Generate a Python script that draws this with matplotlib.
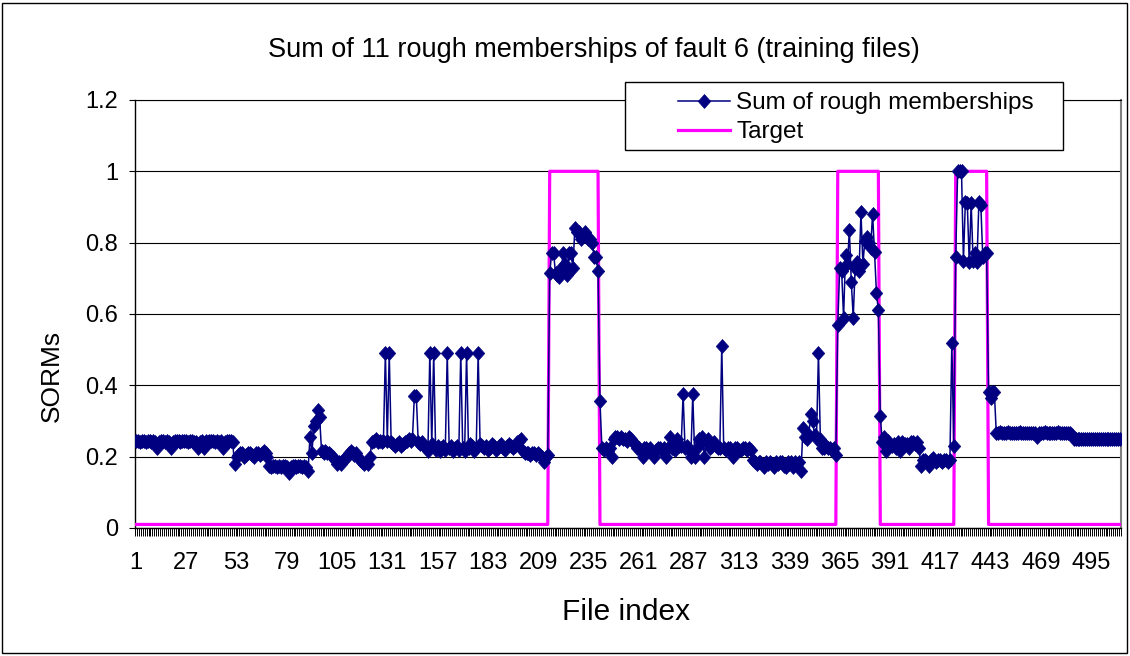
import matplotlib
matplotlib.use('Agg')
import matplotlib.pyplot as plt
from matplotlib.patches import Rectangle
from matplotlib.lines import Line2D
import numpy as np

plt.rcParams['font.family'] = ['Liberation Sans', 'DejaVu Sans']

# ---------------- data ----------------
title = "Sum of 11 rough memberships of fault 6 (training files)"
x_label = "File index"
y_label = "SORMs"
series_names = ["Sum of rough memberships", "Target"]

seg_001_051 = [0.245, 0.245, 0.24, 0.245, 0.245, 0.24, 0.245, 0.245, 0.24, 0.245, 0.24,
               0.225,
               0.24, 0.245, 0.245, 0.24, 0.245, 0.24,
               0.225,
               0.24, 0.245, 0.245, 0.245, 0.24, 0.245, 0.245, 0.245, 0.24, 0.245, 0.245, 0.24, 0.24,
               0.225,
               0.24, 0.245,
               0.225,
               0.245, 0.24, 0.245, 0.245, 0.245, 0.24, 0.245, 0.24, 0.245,
               0.225,
               0.24, 0.245, 0.245, 0.245, 0.24]
seg_052_069 = [0.18, 0.2, 0.205, 0.21, 0.21, 0.2, 0.205, 0.21, 0.21, 0.205, 0.2, 0.21, 0.21,
               0.205, 0.21, 0.215, 0.21, 0.2]
seg_070_090 = [0.175, 0.17, 0.175, 0.175, 0.17, 0.175, 0.17, 0.175, 0.175, 0.17, 0.155,
               0.17, 0.175, 0.175, 0.17, 0.175, 0.175, 0.17, 0.175, 0.17, 0.16]
seg_091_098 = [0.255, 0.21, 0.285, 0.30, 0.33, 0.31, 0.215, 0.21]
seg_099_122 = [0.215, 0.21, 0.21, 0.205, 0.2, 0.19, 0.18, 0.185, 0.18, 0.19, 0.195, 0.2,
               0.21, 0.215, 0.21, 0.205, 0.21, 0.2, 0.19, 0.185, 0.18, 0.185, 0.18, 0.2]
seg_123_146 = [0.24, 0.245, 0.25, 0.24, 0.245, 0.24, 0.245, 0.49, 0.245, 0.49,
               0.24, 0.235, 0.23, 0.235, 0.24, 0.23, 0.235, 0.24, 0.245, 0.25, 0.245, 0.25,
               0.37, 0.37]
seg_147_178 = [0.24, 0.235, 0.24, 0.23, 0.225, 0.215, 0.49, 0.235, 0.49, 0.22,
               0.23, 0.215, 0.225, 0.23, 0.22, 0.49, 0.225, 0.23, 0.215, 0.225,
               0.23, 0.22, 0.49, 0.225, 0.215, 0.49, 0.225, 0.235, 0.23, 0.215,
               0.225, 0.49]
seg_179_214 = [0.235, 0.23, 0.225, 0.23, 0.22, 0.225, 0.235, 0.23, 0.22, 0.225, 0.23,
               0.235, 0.225, 0.22, 0.23, 0.235, 0.23, 0.225, 0.23, 0.24, 0.245,
               0.25,
               0.215, 0.21, 0.21, 0.21, 0.205, 0.21, 0.21, 0.205, 0.21, 0.205, 0.2,
               0.185, 0.2, 0.205]
seg_215_240 = [0.715, 0.77, 0.77, 0.715, 0.71, 0.705, 0.73, 0.77, 0.74, 0.71, 0.77, 0.77,
               0.73, 0.84, 0.83, 0.83, 0.81, 0.82, 0.83, 0.82, 0.81, 0.81, 0.80, 0.76,
               0.76, 0.72]
seg_241_260 = [0.355, 0.225, 0.22, 0.225, 0.215, 0.225, 0.2, 0.25, 0.255, 0.255, 0.25,
               0.255, 0.25, 0.25, 0.245, 0.255, 0.25, 0.24, 0.235, 0.225]
seg_261_319 = [0.225, 0.215, 0.2, 0.225, 0.225, 0.22, 0.225, 0.21, 0.2, 0.22,
               0.225, 0.225, 0.215, 0.225, 0.2, 0.225, 0.255, 0.225, 0.225, 0.22,
               0.25, 0.23, 0.23, 0.375, 0.225, 0.23, 0.22, 0.2, 0.375, 0.2,
               0.225, 0.25, 0.24, 0.255, 0.2, 0.24, 0.25, 0.225, 0.23, 0.24,
               0.23, 0.225, 0.225, 0.51, 0.225, 0.22, 0.225, 0.225, 0.22, 0.2,
               0.225, 0.225, 0.22, 0.22, 0.225, 0.225, 0.22, 0.225, 0.22]
seg_320_345 = [0.19, 0.185, 0.18, 0.185, 0.185, 0.18, 0.17, 0.185, 0.18, 0.185,
               0.18, 0.17, 0.185, 0.18, 0.185, 0.185, 0.175, 0.17, 0.185, 0.18,
               0.185, 0.17, 0.185, 0.18, 0.185, 0.16]
seg_346_363 = [0.28, 0.255, 0.25, 0.26, 0.32, 0.3, 0.26, 0.25, 0.49, 0.25, 0.225, 0.225,
               0.23, 0.225, 0.225, 0.22, 0.225, 0.205]
seg_364_385 = [0.57, 0.73, 0.72, 0.59, 0.765, 0.74, 0.835, 0.69, 0.59, 0.73, 0.745, 0.72,
               0.885, 0.74, 0.805, 0.815, 0.8, 0.785, 0.88, 0.775, 0.66, 0.61]
seg_386_424 = [0.315,
               0.24, 0.255, 0.215, 0.245, 0.235, 0.23, 0.235, 0.225, 0.24, 0.215,
               0.24, 0.23, 0.235, 0.235, 0.225, 0.24, 0.24, 0.235, 0.24, 0.225,
               0.175, 0.19, 0.19, 0.185, 0.175, 0.19, 0.195, 0.19, 0.185, 0.19,
               0.19, 0.185, 0.19, 0.19, 0.185,
               0.19, 0.52, 0.23]
seg_425_441 = [0.76, 1.0, 1.0, 1.0, 0.75, 0.915, 0.91, 0.745, 0.91, 0.75, 0.77, 0.745,
               0.915, 0.905, 0.76, 0.77, 0.77]
seg_442_510 = [0.38, 0.365, 0.38, 0.38,
               0.265, 0.265, 0.27, 0.265, 0.265, 0.265, 0.27, 0.265, 0.265, 0.265,
               0.265, 0.265, 0.27, 0.265, 0.265, 0.265, 0.265, 0.265, 0.265, 0.265,
               0.265, 0.255, 0.265, 0.265, 0.265, 0.27, 0.265, 0.265, 0.265, 0.265,
               0.265, 0.265, 0.27, 0.265, 0.265, 0.265, 0.265, 0.265, 0.265, 0.26,
               0.25, 0.25, 0.25, 0.25, 0.25, 0.25, 0.25, 0.25, 0.25, 0.25,
               0.25, 0.25, 0.25, 0.25, 0.25, 0.25, 0.25, 0.25, 0.25, 0.25,
               0.25, 0.25, 0.25, 0.25, 0.25]

sorms = (seg_001_051 + seg_052_069 + seg_070_090 + seg_091_098 + seg_099_122 +
         seg_123_146 + seg_147_178 + seg_179_214 + seg_215_240 + seg_241_260 +
         seg_261_319 + seg_320_345 + seg_346_363 + seg_364_385 + seg_386_424 +
         seg_425_441 + seg_442_510)

# target as run-length encoded step levels
target_levels = [0.01, 1.0, 0.01, 1.0, 0.01, 1.0, 0.01]
target_run_lengths = [214, 26, 123, 22, 39, 17, 69]

x_tick_values = [1, 27, 53, 79, 105, 131, 157, 183, 209, 235, 261, 287, 313, 339,
                 365, 391, 417, 443, 469, 495]
x_tick_labels = ["1", "27", "53", "79", "105", "131", "157", "183", "209", "235", "261",
                 "287", "313", "339", "365", "391", "417", "443", "469", "495"]
y_tick_values = [0, 0.2, 0.4, 0.6, 0.8, 1.0, 1.2]
y_tick_labels = ["0", "0.2", "0.4", "0.6", "0.8", "1", "1.2"]

assert len(sorms) == 510, len(sorms)
assert sum(target_run_lengths) == 510

# ---------------- figure ----------------
W, H = 1130, 656
fig = plt.figure(figsize=(W / 100, H / 100), dpi=100)
fig.patch.set_facecolor('white')


def fx(px):
    return px / W


def fy(py):
    return 1 - py / H


ax = fig.add_axes([fx(135), fy(528), fx(1121) - fx(135), fy(100) - fy(528)])

navy = '#000080'
magenta = '#FF00FF'
n = len(sorms)
x = np.arange(1, n + 1)
target = np.repeat(target_levels, target_run_lengths)

# slightly tall diamond like the Excel marker
diamond = [(0, 1), (0.9, 0), (0, -1), (-0.9, 0), (0, 1)]
mk_size = 10

ax.plot(x, target, color=magenta, lw=2.3, zorder=3)
ax.plot(x, sorms, color=navy, lw=1.1, marker=diamond, ms=mk_size, mfc=navy, mec=navy,
        mew=0.5, zorder=4)

ax.set_xlim(0.5, n + 0.5)
ax.set_ylim(0, 1.2)
ax.set_yticks(y_tick_values)
ax.set_yticklabels(y_tick_labels)
ax.yaxis.grid(True, color='black', lw=0.8)
ax.set_axisbelow(True)

ax.set_xticks(x_tick_values)
ax.set_xticklabels(x_tick_labels)
ax.set_xticks(np.arange(0.5, n + 1, 1), minor=True)
ax.tick_params(axis='x', which='major', length=0, pad=17, labelsize=17)
ax.tick_params(axis='x', which='minor', length=5.5, width=0.7, direction='out', color='black')
ax.tick_params(axis='y', length=4.5, width=0.8, pad=7.5, labelsize=17)

for s in ['left', 'bottom']:
    ax.spines[s].set_color('black')
    ax.spines[s].set_linewidth(1.0)
ax.spines['top'].set_color('black')
ax.spines['top'].set_linewidth(0.8)
ax.spines['right'].set_color('#808080')
ax.spines['right'].set_linewidth(1.5)

# titles
fig.text(fx(594), fy(50), title, ha='center', va='center', fontsize=19.5)
fig.text(fx(626), fy(612), x_label, ha='center', va='center', fontsize=21.5)
fig.text(fx(52), fy(376), y_label, ha='center', va='center', rotation=90, fontsize=19)

# legend box
leg_rect = Rectangle((fx(625), fy(150)), fx(1063) - fx(625), fy(82) - fy(150),
                     transform=fig.transFigure, facecolor='white', edgecolor='black',
                     lw=1.0, zorder=5)
fig.add_artist(leg_rect)
handles = [Line2D([], [], color=navy, lw=1.1, marker=diamond, ms=mk_size, mfc=navy,
                  mec=navy, mew=0.5),
           Line2D([], [], color=magenta, lw=2.3)]
leg = fig.legend(handles, series_names, loc='upper left',
                 bbox_to_anchor=(fx(678), fy(92)), frameon=False, fontsize=17.5,
                 handlelength=2.15, handletextpad=0.25, labelspacing=0.3,
                 borderpad=0, borderaxespad=0)
leg.set_zorder(6)

# chart border
border = Rectangle((fx(2), fy(653)), fx(1127) - fx(2), fy(3) - fy(653),
                   transform=fig.transFigure, fill=False, edgecolor='black', lw=1.0, zorder=7)
fig.add_artist(border)

fig.savefig('out.png', dpi=100, facecolor='white')
